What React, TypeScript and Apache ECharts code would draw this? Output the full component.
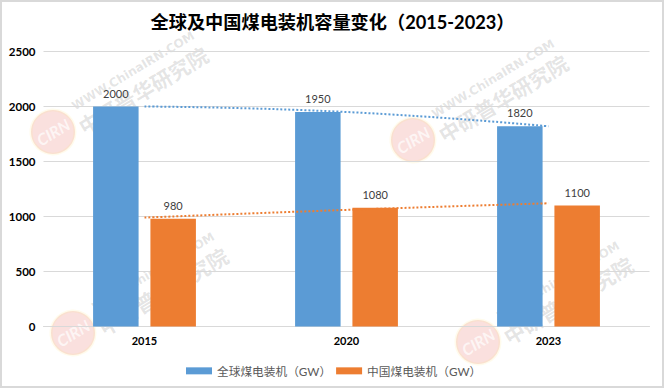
import React, { useEffect, useRef } from "react";
import * as echarts from "echarts";

const titleText = "全球及中国煤电装机容量变化（2015-2023）";
const categories = ["2015", "2020", "2023"];
const globalName = "全球煤电装机（GW）";
const chinaName = "中国煤电装机（GW）";
const globalValues = [2000, 1950, 1820];
const chinaValues = [980, 1080, 1100];
const globalTrend = [2000, 1950, 1820];
const chinaTrend = [990, 1060, 1120];
const yTicks = { min: 0, max: 2500, interval: 500 };
const watermarkAnchors = [
  [53, 132],
  [413, 140],
  [73, 333],
  [478, 342],
];

const FONT = "Lato, 'Noto Sans CJK SC', sans-serif";
const BLUE = "#5b9bd5";
const ORANGE = "#ed7d31";
const ANGLE = (31 * Math.PI) / 180;

function watermark([x, y]: number[]) {
  return {
    type: "group",
    x,
    y,
    silent: true,
    z: 100,
    children: [
      { type: "circle", shape: { cx: 0, cy: 0, r: 22 }, style: { fill: "rgba(226,70,60,0.17)", stroke: "rgba(255,225,120,0.14)", lineWidth: 3 } },
      {
        type: "text",
        x: 0,
        y: 0,
        rotation: ANGLE,
        style: { text: "CIRN", x: 0, y: 0, align: "center", verticalAlign: "middle", fill: "rgba(255,255,255,0.7)", font: "italic bold 16px " + FONT },
      },
      {
        type: "text",
        x: 27,
        y: -4,
        rotation: ANGLE,
        style: { text: "中研普华研究院", x: 0, y: 0, align: "left", verticalAlign: "middle", fill: "rgba(90,90,90,0.17)", font: "bold 21px 'Noto Sans CJK SC', sans-serif" },
      },
      {
        type: "text",
        x: 20,
        y: -25,
        rotation: ANGLE,
        style: { text: "WWW.ChinaIRN.COM", x: 0, y: 0, align: "left", verticalAlign: "middle", fill: "rgba(90,90,90,0.17)", font: "bold 12px 'DejaVu Sans', sans-serif" },
      },
    ],
  };
}

export default function App() {
  const ref = useRef<HTMLDivElement>(null);
  useEffect(() => {
    const chart = echarts.init(ref.current!, null, { renderer: "svg" });
    chart.setOption({
      animation: false,
      backgroundColor: "#ffffff",
      title: {
        text: titleText,
        left: "center",
        top: 8,
        textStyle: { fontFamily: FONT, fontSize: 18.2, fontWeight: "bold", color: "#000000" },
      },
      grid: { left: 43.5, right: 15.5, top: 51.5, bottom: 62.5 },
      legend: {
        data: [globalName, chinaName],
        top: 360,
        left: 181,
        itemWidth: 26,
        itemHeight: 7,
        itemGap: 5,
        icon: "rect",
        textStyle: { fontFamily: FONT, fontSize: 11.7, color: "#595959" },
      },
      xAxis: {
        type: "category",
        data: categories,
        axisTick: { show: false },
        axisLine: { lineStyle: { color: "#d9d9d9" } },
        axisLabel: { fontFamily: FONT, fontSize: 11, fontWeight: "bold", color: "#000000", margin: 8 },
      },
      yAxis: {
        type: "value",
        ...yTicks,
        axisLine: { show: false },
        axisTick: { show: false },
        splitLine: { lineStyle: { color: "#d9d9d9" } },
        axisLabel: { formatter: (v: number) => String(v), fontFamily: FONT, fontSize: 11.5, fontWeight: "bold", color: "#000000", margin: 8 },
      },
      series: [
        {
          name: globalName,
          type: "bar",
          data: globalValues,
          barWidth: 45.5,
          barGap: "26%",
          itemStyle: { color: BLUE },
          label: { show: true, position: "top", distance: 8, fontFamily: FONT, fontSize: 11, color: "#404040" },
        },
        {
          name: chinaName,
          type: "bar",
          data: chinaValues,
          barWidth: 45.5,
          barGap: "26%",
          itemStyle: { color: ORANGE },
          label: { show: true, position: "top", distance: 8, fontFamily: FONT, fontSize: 11, color: "#404040" },
        },
        {
          name: "全球趋势线",
          type: "line",
          data: globalTrend,
          smooth: true,
          showSymbol: false,
          lineStyle: { color: BLUE, width: 2, type: [2, 2] },
          z: 5,
        },
        {
          name: "中国趋势线",
          type: "line",
          data: chinaTrend,
          smooth: true,
          showSymbol: false,
          lineStyle: { color: ORANGE, width: 2, type: [2, 2] },
          z: 5,
        },
      ],
      graphic: [
        {
          type: "rect",
          silent: true,
          z: 101,
          shape: { x: 1, y: 1, width: 662, height: 386 },
          style: { fill: "none", stroke: "#d9d9d9", lineWidth: 2 },
        },
        ...watermarkAnchors.map(watermark),
      ],
    });
    return () => chart.dispose();
  }, []);
  return <div ref={ref} style={{ position: "absolute", left: 0, top: 0, width: 665, height: 389 }} />;
}
